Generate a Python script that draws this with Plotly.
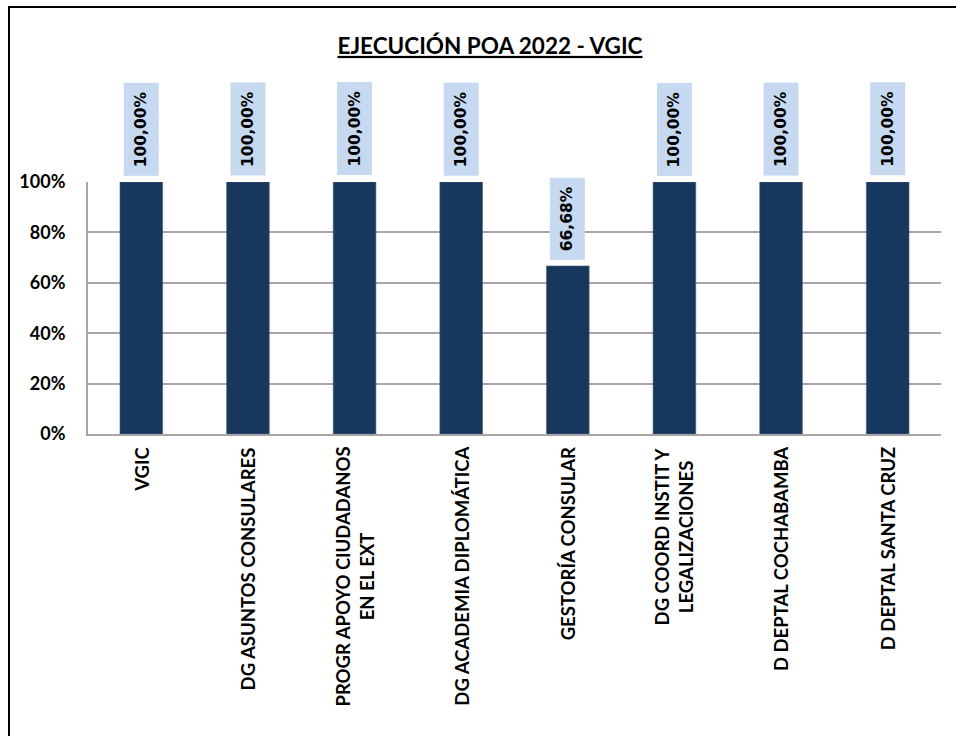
import plotly.graph_objects as go

categories = [
    "VGIC",
    "DG ASUNTOS CONSULARES",
    "PROGR APOYO CIUDADANOS<br>EN EL EXT",
    "DG ACADEMIA DIPLOMÁTICA",
    "GESTORÍA CONSULAR",
    "DG COORD INSTIT Y<br>LEGALIZACIONES",
    "D DEPTAL COCHABAMBA",
    "D DEPTAL SANTA CRUZ",
]
values = [100.00, 100.00, 100.00, 100.00, 66.68, 100.00, 100.00, 100.00]
y_ticks = [0, 20, 40, 60, 80, 100]
y_tick_labels = ["0%", "20%", "40%", "60%", "80%", "100%"]
title_text = "EJECUCIÓN POA 2022 - VGIC"

FONT = "Lato"
VAL_FONT = "DejaVu Sans"
BAR = "#17375E"
LABEL_BG = "#C6D9F1"
GRID = "#A6A6A6"

W, H = 956, 736
ML, MR, MT, MB = 88, 15, 182, 302
PW = W - ML - MR
PH = H - MT - MB

fig = go.Figure()
fig.add_trace(go.Bar(
    x=categories, y=values, width=0.4,
    marker=dict(color=BAR, line=dict(color="#4A6080", width=0.6)),
    hoverinfo="skip", showlegend=False,
))

# value labels (rotated, with light blue box)
for c, v in zip(categories, values):
    fig.add_annotation(
        x=c, y=v, xref="x", yref="y", yanchor="bottom", xanchor="center",
        yshift=6, textangle=-90,
        text="<b>" + f"{v:.2f}".replace(".", ",") + "%</b>",
        font=dict(family=VAL_FONT, size=15.5, color="#000000"),
        bgcolor=LABEL_BG, borderpad=8, showarrow=False,
    )

# category labels (rotated, centered lines)
for c in categories:
    fig.add_annotation(
        x=c, y=0, xref="x", yref="y", yanchor="top", xanchor="center",
        yshift=-11, textangle=-90, align="center",
        text="<b>" + c + "</b>",
        font=dict(family=FONT, size=18.5, color="#000000"),
        showarrow=False,
    )

# outer chart border
fig.add_shape(
    type="rect", xref="paper", yref="paper",
    x0=(9 - ML) / PW, x1=(962 - ML) / PW,
    y0=-(742 - (H - MB)) / PH, y1=1 + (MT - 7) / PH,
    line=dict(color="#000000", width=2), layer="above",
)

fig.update_layout(
    width=W, height=H,
    margin=dict(l=ML, r=MR, t=MT, b=MB),
    paper_bgcolor="white", plot_bgcolor="white",
    title=dict(
        text="<u><b>" + title_text + "</b></u>",
        x=490 / W, xref="container", xanchor="center",
        y=1 - 46 / H, yref="container", yanchor="middle",
        font=dict(family=FONT, size=22.5, color="#000000"),
    ),
    xaxis=dict(
        showticklabels=False, showgrid=False, zeroline=False,
        showline=True, linecolor=GRID, linewidth=2,
    ),
    yaxis=dict(
        range=[0, 100], tickvals=y_ticks,
        ticktext=["<b>" + t + "</b>" for t in y_tick_labels],
        showgrid=True, gridcolor=GRID, gridwidth=2,
        zeroline=False, showline=True, linecolor=GRID, linewidth=2,
        tickfont=dict(family=FONT, size=18, color="#000000"),
        ticklabelstandoff=17,
    ),
    font=dict(family=FONT, color="#000000"),
)

fig.write_html(
    "out.html",
    config={"displayModeBar": False},
    post_script="document.body.style.margin='0px';",
)
